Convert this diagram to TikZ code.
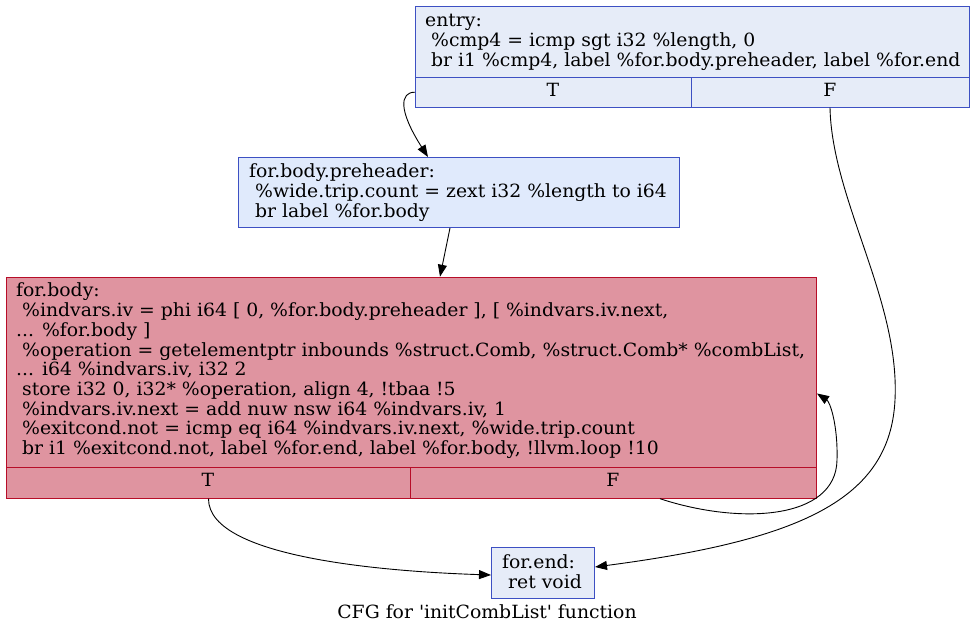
\documentclass[tikz,border=0pt]{standalone}
\usepackage{fontspec}
\setmainfont{DejaVu Serif}[FakeStretch=1.033]
\usetikzlibrary{arrows.meta}
\definecolor{cbd}{HTML}{3D50C3}
\definecolor{hbd}{HTML}{B70D28}
\definecolor{cfill}{HTML}{E6ECF8}
\definecolor{pfill}{HTML}{E0EAFC}
\definecolor{hfill}{HTML}{DF94A0}
\newcommand\blkfont{\fontsize{18.2}{19.7}\selectfont}
\newcommand\fl{\rule{0pt}{14pt}}
\newcommand\ls{\mbox{}\ }
\tikzset{
  blk/.style={draw, rectangle, inner sep=0pt, line width=1pt, anchor=north west},
  cold/.style={blk, draw=cbd, fill=cfill},
  warm/.style={blk, draw=cbd, fill=pfill},
  hot/.style={blk, draw=hbd, fill=hfill},
  txt/.style={anchor=north west, inner sep=0pt, align=left, font=\blkfont},
  celltxt/.style={anchor=base, inner sep=0pt, font=\blkfont},
  edge/.style={draw, line width=0.9pt, -{Triangle[length=12pt,width=9pt]}},
}
\begin{document}
\begin{tikzpicture}[x=1pt,y=-1pt]
\useasboundingbox (0,0) rectangle (975,635);
\fill[white] (0,0) rectangle (975,635);
% entry
\node[cold, minimum width=554pt, minimum height=71pt] (entry) at (415,5.7) {};
\node[cold, minimum width=276pt, minimum height=30pt] (entryT) at (415,76.7) {};
\node[cold, minimum width=278pt, minimum height=30pt] (entryF) at (691,76.7) {};
\node[txt] (entrytxt) at (425,12.6) {\fl entry:\\\ls\%cmp4 = icmp sgt i32 \%length, 0\\\ls br i1 \%cmp4, label \%for.body.preheader, label \%for.end};
\node[celltxt] (entryTt) at (553,96.7) {T};
\node[celltxt] (entryFt) at (830,96.7) {F};
% preheader
\node[warm, minimum width=441pt, minimum height=70pt] (pre) at (238,157) {};
\node[txt] (pretxt) at (249,163.5) {\fl for.body.preheader:\\\ls\%wide.trip.count = zext i32 \%length to i64\\\ls br label \%for.body};
% body
\node[hot, minimum width=810pt, minimum height=190.6pt] (body) at (6,276.7) {};
\node[hot, minimum width=404pt, minimum height=30.4pt] (bodyT) at (6,467.3) {};
\node[hot, minimum width=406pt, minimum height=30.4pt] (bodyF) at (410,467.3) {};
\node[txt] (bodytxt) at (16,282.7) {\fl for.body:\\\ls\%indvars.iv = phi i64 [ 0, \%for.body.preheader ], [ \%indvars.iv.next,\\... \%for.body ]\\\ls\%operation = getelementptr inbounds \%struct.Comb, \%struct.Comb* \%combList,\\... i64 \%indvars.iv, i32 2\\\ls store i32 0, i32* \%operation, align 4, !tbaa !5\\\ls\%indvars.iv.next = add nuw nsw i64 \%indvars.iv, 1\\\ls\%exitcond.not = icmp eq i64 \%indvars.iv.next, \%wide.trip.count\\\ls br i1 \%exitcond.not, label \%for.end, label \%for.body, !llvm.loop !10};
\node[celltxt] (bodyTt) at (208,486.7) {T};
\node[celltxt] (bodyFt) at (613,486.7) {F};
% end
\node[cold, minimum width=103pt, minimum height=51.6pt] (end) at (491,546.7) {};
\node[txt] (endtxt) at (502,554.3) {\fl for.end:\\\ls ret void};
% caption
\node[celltxt] (caption) at (487,618.3) {CFG for \textquotesingle initCombList\textquotesingle{} function};
% edges
\path[edge] (entryT.west) .. controls (400,92) and (398,110) .. ([xshift=190pt]pre.north west);
\path[edge] ([xshift=139pt]entryF.south west) .. controls (832,200) and (900,300) .. (895,400) .. controls (890,500) and (800,540) .. ([yshift=6pt]end.east);
\path[edge] ([xshift=212pt]pre.south west) -- ([xshift=434pt]body.north west);
\path[edge] (bodyT.south) .. controls (208,560) and (400,572) .. ([yshift=-2pt]end.west);
\path[edge] ([xshift=250pt]bodyF.south west) .. controls (740,525) and (836,520) .. (837,460) .. controls (838,425) and (830,402) .. ([yshift=-21pt]body.east);
\end{tikzpicture}
\end{document}
